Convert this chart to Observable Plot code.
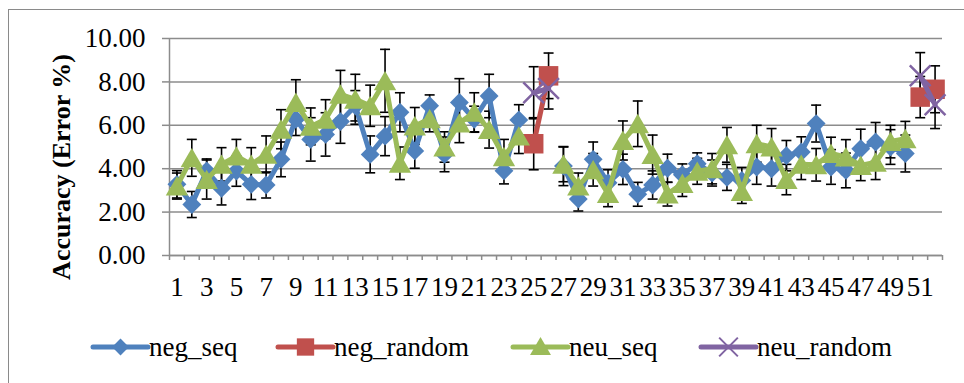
<!DOCTYPE html>
<html>
<head>
<meta charset="utf-8">
<script src="https://cdn.jsdelivr.net/npm/d3@7"></script>
<script src="https://cdn.jsdelivr.net/npm/@observablehq/plot@0.6"></script>
<style>
  body { margin: 0; background: #fff; }
  #wrap { position: relative; width: 964px; height: 383px; overflow: hidden; font-family: "Liberation Serif", "DejaVu Serif", serif; background: #fff; }
  #frame { position: absolute; left: 8px; top: 9px; width: 1000px; height: 420px; border: 1.5px solid #8a8a8a; }
  #chart { position: absolute; left: 0; top: 0; }
  #ytitle { position: absolute; left: 62px; top: 167px; transform: translate(-50%, -50%) rotate(-90deg); font-weight: bold; font-size: 26px; white-space: nowrap; color: #000; }
  #legend { position: absolute; left: 0; top: 320px; }
</style>
</head>
<body>
<div id="wrap">
  <div id="frame"></div>
  <div id="chart"></div>
  <div id="ytitle">Accuracy (Error %)</div>
  <svg id="legend" width="964" height="55"></svg>
</div>
<script>
// ---- data ----
const categories = [1,2,3,4,5,6,7,8,9,10,11,12,13,14,15,16,17,18,19,20,21,22,23,24,25,26,27,28,29,30,31,32,33,34,35,36,37,38,39,40,41,42,43,44,45,46,47,48,49,50,51,52];
const xTickLabels = [1,3,5,7,9,11,13,15,17,19,21,23,25,27,29,31,33,35,37,39,41,43,45,47,49,51];
const yTicks = [0,2,4,6,8,10];
const seriesNames = ["neg_seq", "neg_random", "neu_seq", "neu_random"];
const seriesColors = ["#4F81BD", "#C0504D", "#9BBB59", "#8064A2"];

const negSeq = [3.28,2.35,3.9,3.1,3.89,3.28,3.25,4.43,6.28,5.35,5.58,6.17,6.9,4.66,5.5,6.6,4.82,6.9,4.66,7.05,6.28,7.35,3.9,6.25,null,null,
                4.12,2.6,4.43,3.35,3.97,2.82,3.25,4.02,3.72,4.23,3.8,3.6,3.46,4.08,4.0,4.6,4.77,6.08,4.08,3.92,4.92,5.23,5.0,4.7,null,null];
const negSeqErr = [0.63,0.6,0.55,0.77,0.7,0.7,0.6,0.8,0.75,1.0,1.0,1.0,0.7,0.85,0.9,0.9,0.8,0.5,0.8,1.1,0.6,1.0,0.6,0.7,null,null,
                   0.9,0.55,0.8,0.6,0.7,0.55,0.65,0.65,0.5,0.5,0.6,0.6,0.6,0.8,0.8,0.7,0.7,0.85,0.8,0.8,0.9,0.9,0.8,0.85,null,null];
const negRandom = [null,null,null,null,null,null,null,null,null,null,null,null,null,null,null,null,null,null,null,null,null,null,null,null,5.15,8.28,
                   null,null,null,null,null,null,null,null,null,null,null,null,null,null,null,null,null,null,null,null,null,null,null,null,7.3,7.66];
const negRandomErr = [null,null,null,null,null,null,null,null,null,null,null,null,null,null,null,null,null,null,null,null,null,null,null,null,1.2,1.05,
                      null,null,null,null,null,null,null,null,null,null,null,null,null,null,null,null,null,null,null,null,null,null,null,null,0.95,1.08];
const neuSeq = [3.2,4.5,3.5,4.2,4.58,4.2,4.66,5.82,7.05,5.95,6.28,7.43,7.2,6.9,8.05,4.25,5.97,6.3,5.0,6.1,6.6,5.8,4.55,5.5,null,null,
                4.2,3.2,3.95,2.85,5.3,6.07,4.65,2.83,3.32,3.88,4.0,5.1,2.95,5.15,5.0,3.5,4.2,4.18,4.7,4.54,4.15,4.3,5.25,5.38,null,null];
const neuSeqErr = [0.6,0.85,0.9,0.77,0.77,0.77,0.85,0.9,1.05,0.85,0.9,1.1,1.15,0.95,1.45,0.75,0.85,0.6,0.7,0.9,0.9,0.85,0.8,0.8,null,null,
                   0.8,0.6,0.75,0.6,0.9,1.05,0.9,0.55,0.6,0.6,0.7,0.8,0.55,0.85,0.85,0.7,0.7,0.75,0.75,0.8,0.7,0.8,0.75,0.8,null,null];
const neuRandom = [null,null,null,null,null,null,null,null,null,null,null,null,null,null,null,null,null,null,null,null,null,null,null,null,7.5,7.7,
                   null,null,null,null,null,null,null,null,null,null,null,null,null,null,null,null,null,null,null,null,null,null,null,null,8.28,6.95];
const neuRandomErr = [null,null,null,null,null,null,null,null,null,null,null,null,null,null,null,null,null,null,null,null,null,null,null,null,1.2,0.95,
                      null,null,null,null,null,null,null,null,null,null,null,null,null,null,null,null,null,null,null,null,null,null,null,null,1.07,1.1];

// ---- build ----
const rowsOf = (vals, errs) => categories.map((c, i) => ({cat: c, v: vals[i], e: errs[i]}));
const series = [
  {rows: rowsOf(negSeq, negSeqErr), color: seriesColors[0], symbol: "diamond2", r: 8.5, dy: 0, fill: true},
  {rows: rowsOf(negRandom, negRandomErr), color: seriesColors[1], symbol: "square", r: 11, dy: 0, fill: true},
  {rows: rowsOf(neuSeq, neuSeqErr), color: seriesColors[2], symbol: "triangle", r: 8.3, dy: 3, fill: true},
  {rows: rowsOf(neuRandom, neuRandomErr), color: seriesColors[3], symbol: "times", r: 9.5, dy: 0, fill: false}
];

const capSymbol = {
  draw(context, size) {
    const w = Math.sqrt(size / Math.PI);
    context.moveTo(-w, 0);
    context.lineTo(w, 0);
  }
};

const boundaries = categories.map(c => c - 0.5).concat([categories[categories.length - 1] + 0.5]);
const grey = "#8c8c8c";

const marks = [
  Plot.gridY(yTicks, {stroke: grey, strokeOpacity: 1, strokeWidth: 1.5}),
  Plot.ruleX([boundaries[0]], {stroke: grey, strokeWidth: 1.5}),
  Plot.ruleY([0], {stroke: grey, strokeWidth: 1.5}),
  Plot.axisY(yTicks, {tickSize: 7, tickPadding: 17, tickFormat: d => d.toFixed(2), stroke: grey, strokeWidth: 1.5, label: null}),
  Plot.axisX(boundaries, {tickSize: 5, tickFormat: () => "", stroke: grey, strokeWidth: 1.5, label: null}),
  Plot.axisX(xTickLabels, {tickSize: 0, tickPadding: 21, label: null})
];

for (const s of series) {
  const valid = s.rows.filter(d => d.v != null);
  marks.push(
    Plot.ruleX(valid, {x: "cat", y1: d => d.v - d.e, y2: d => d.v + d.e, stroke: "#000", strokeWidth: 1.6}),
    Plot.dot(valid, {x: "cat", y: d => d.v - d.e, symbol: capSymbol, r: 5, fill: "none", stroke: "#000", strokeWidth: 1.6}),
    Plot.dot(valid, {x: "cat", y: d => d.v + d.e, symbol: capSymbol, r: 5, fill: "none", stroke: "#000", strokeWidth: 1.6})
  );
}
for (const s of series) {
  const valid = s.rows.filter(d => d.v != null);
  marks.push(
    Plot.line(s.rows, {x: "cat", y: "v", stroke: s.color, strokeWidth: 5}),
    s.fill
      ? Plot.dot(valid, {x: "cat", y: "v", symbol: s.symbol, r: s.r, fill: s.color, stroke: "none", dy: s.dy})
      : Plot.dot(valid, {x: "cat", y: "v", symbol: s.symbol, r: s.r, fill: "none", stroke: s.color, strokeWidth: 2.5})
  );
}

const chart = Plot.plot({
  width: 964,
  height: 310,
  marginLeft: 169,
  marginRight: 22,
  marginTop: 38,
  marginBottom: 55,
  style: {fontFamily: '"Liberation Serif", serif', fontSize: "27px", background: "transparent", color: "#000"},
  x: {type: "linear", domain: [boundaries[0], boundaries[boundaries.length - 1]]},
  y: {domain: [0, 10]},
  marks
});
document.getElementById("chart").appendChild(chart);

// ---- legend ----
const legend = d3.select("#legend");
const legendX = [93, 278, 513, 701];
const symTypes = [d3.symbolDiamond2, d3.symbolSquare, d3.symbolTriangle, d3.symbolTimes];
const symSizes = [180, 300, 190, 230];
const ly = 27;
seriesNames.forEach((name, i) => {
  const x0 = legendX[i];
  legend.append("line").attr("x1", x0).attr("x2", x0 + 55).attr("y1", ly).attr("y2", ly)
    .attr("stroke", seriesColors[i]).attr("stroke-width", 5).attr("stroke-linecap", "round");
  const p = legend.append("path").attr("d", d3.symbol(symTypes[i], symSizes[i])())
    .attr("transform", `translate(${x0 + 27.5},${ly + (i === 2 ? 2 : 0)})`);
  if (i === 3) p.attr("fill", "none").attr("stroke", seriesColors[i]).attr("stroke-width", 2);
  else p.attr("fill", seriesColors[i]);
  legend.append("text").attr("x", x0 + 56).attr("y", ly).attr("dy", "0.32em")
    .attr("font-family", '"Liberation Serif", serif').attr("font-size", 27).attr("fill", "#000").text(name);
});
</script>
</body>
</html>
